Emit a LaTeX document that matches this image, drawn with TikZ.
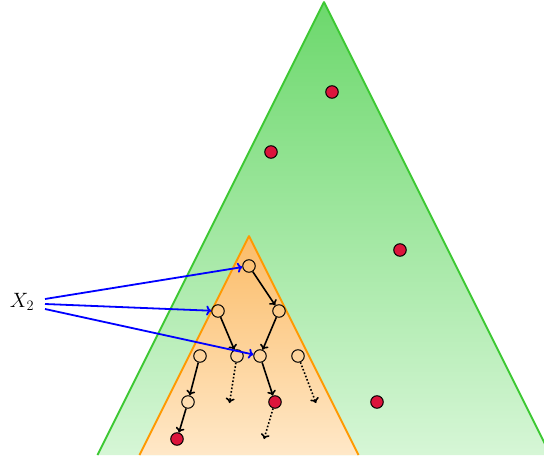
\documentclass[tikz,border=0pt]{standalone}
\usetikzlibrary{arrows.meta}
\definecolor{gtop}{RGB}{108,216,108}
\definecolor{gbot}{RGB}{214,246,214}
\definecolor{gedge}{RGB}{60,200,50}
\definecolor{otop}{RGB}{251,188,104}
\definecolor{obot}{RGB}{255,232,200}
\definecolor{oedge}{RGB}{255,153,0}
\definecolor{redn}{RGB}{220,20,60}
\tikzset{
  vtx/.style={circle, draw=black, line width=1pt, minimum size=12.5pt, inner sep=0pt},
  rvtx/.style={vtx, fill=redn},
  edge/.style={line width=1.6pt, -{To[length=5pt,width=9pt]}},
  dedge/.style={edge, dotted},
  bedge/.style={blue, line width=1.8pt, -{To[length=5pt,width=10pt]}},
}
\begin{document}
\begin{tikzpicture}[x=1pt,y=-1pt]
\useasboundingbox (0,0) rectangle (544,460);
\clip (0,0) rectangle (544,460);
% green triangle
\coordinate (GA) at (324,2);
\coordinate (GL) at (97.5,455);
\coordinate (GR) at (550.5,455);
\path[top color=gtop, bottom color=gbot] (GA) -- (GL) -- (GR) -- cycle;
\draw[gedge, line width=1.8pt, line join=round] (GL) -- (GA) -- (GR);
% orange triangle
\coordinate (OA) at (249,236);
\coordinate (OL) at (139.5,455);
\coordinate (OR) at (358.5,455);
\path[top color=otop, bottom color=obot] (OA) -- (OL) -- (OR) -- cycle;
\draw[oedge, line width=1.8pt, line join=round] (OL) -- (OA) -- (OR);
% red points in green
\node[rvtx] (g1) at (332,92) {};
\node[rvtx] (g2) at (271,152) {};
\node[rvtx] (g3) at (400,250) {};
\node[rvtx] (g4) at (377,402) {};
% tree
\node[vtx] (t) at (249,266) {};
\node[vtx] (a) at (218,311) {};
\node[vtx] (b) at (279,311) {};
\node[vtx] (c) at (200,356) {};
\node[vtx] (d) at (237,356) {};
\node[vtx] (e) at (260,356) {};
\node[vtx] (f) at (298,356) {};
\node[vtx] (h) at (188,402) {};
\node[rvtx] (r1) at (275,402) {};
\node[rvtx] (r2) at (177,439) {};
\coordinate (d1) at (229.5,403);
\coordinate (f1) at (316,403);
\coordinate (r1a) at (264,439);
\draw[edge] (t) -- (b);
\draw[edge] (a) -- (d);
\draw[edge] (b) -- (e);
\draw[edge] (c) -- (h);
\draw[edge] (h) -- (r2);
\draw[edge] (e) -- (r1);
\draw[dedge] (d) -- (d1);
\draw[dedge] (f) -- (f1);
\draw[dedge] (r1) -- (r1a);
% label
\node (x) at (22,302) {\fontsize{20}{24}\selectfont $X_2$};
\coordinate (x1) at (45,299);
\coordinate (x2) at (45,304);
\coordinate (x3) at (45,309);
\draw[bedge] (x1) -- (t);
\draw[bedge] (x2) -- (a);
\draw[bedge] (x3) -- (e);
\end{tikzpicture}
\end{document}
